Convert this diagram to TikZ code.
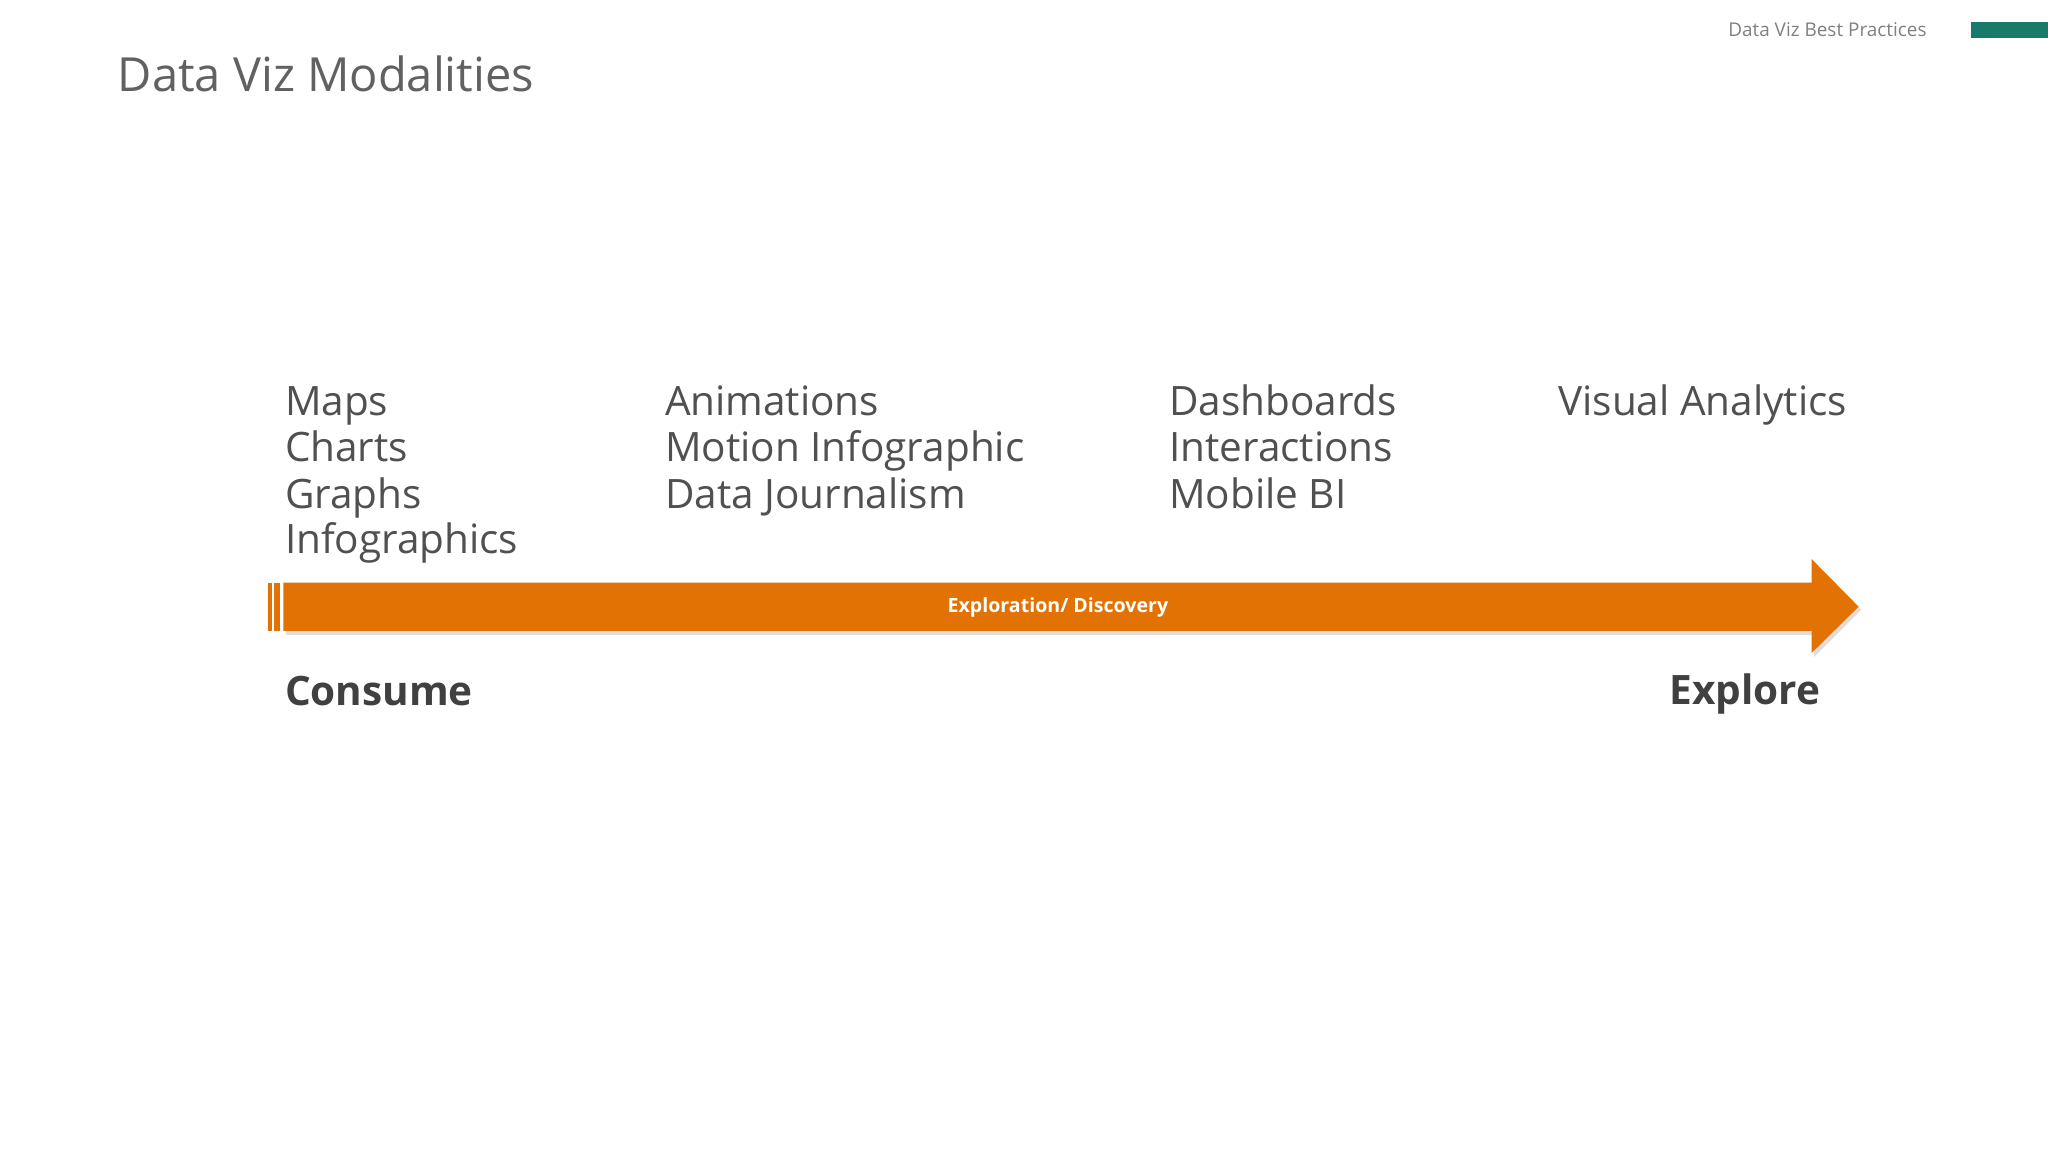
\documentclass[tikz,border=0pt]{standalone}
\usepackage{fontspec}
\setmainfont{Open Sans}
\definecolor{txt}{RGB}{80,80,80}
\definecolor{dark}{RGB}{64,64,64}
\definecolor{arr}{RGB}{226,114,4}
\definecolor{arrd}{RGB}{200,98,0}
\definecolor{tealbar}{RGB}{24,122,104}
\begin{document}
\begin{tikzpicture}[x=1pt,y=-1pt,
  item/.style={anchor=base west,inner sep=0pt,text=txt,font=\fontsize{31}{31}\selectfont},
  endlbl/.style={inner sep=0pt,text=dark,font=\fontsize{31}{31}\selectfont\bfseries}]
\useasboundingbox (0,0) rectangle (1568,882);
\fill[white] (0,0) rectangle (1568,882);
\node[anchor=base west,inner sep=0pt,text=txt!90,font=\fontsize{36}{36}\selectfont] (title) at (90,70) {Data Viz Modalities};
\node[anchor=base west,inner sep=0pt,text=gray,font=\fontsize{14.5}{14.5}\selectfont] (hdr) at (1323,28) {Data Viz Best Practices};
\fill[tealbar] (1509,17) rectangle (1568,29);
% arrow
\fill[black!25,opacity=0.5] (219,449) -- (1389,449) -- (1389,431) -- (1425,467) -- (1389,503) -- (1389,486) -- (219,486) -- cycle;
\fill[arr] (217,446) -- (1387,446) -- (1387,428) -- (1423,464.5) -- (1387,500) -- (1387,483) -- (217,483) -- cycle;
\fill[arr] (205,446) rectangle (208,483);
\fill[arr] (210,446) rectangle (214,483);
\node[inner sep=0pt,text=white,font=\fontsize{15}{15}\selectfont\bfseries] (lbl) at (810,465) {Exploration/ Discovery};
% columns
\node[item] (a1) at (218,318) {Maps};
\node[item] (a2) at (218,353) {Charts};
\node[item] (a3) at (218,389) {Graphs};
\node[item] (a4) at (218,424) {Infographics};
\node[item] (b1) at (509,318) {Animations};
\node[item] (b2) at (509,353) {Motion Infographic};
\node[item] (b3) at (509,389) {Data Journalism};
\node[item] (c1) at (895,318) {Dashboards};
\node[item] (c2) at (895,353) {Interactions};
\node[item] (c3) at (895,389) {Mobile BI};
\node[item] (d1) at (1193,318) {Visual Analytics};
\node[endlbl,anchor=base west] (cons) at (218,540) {Consume};
\node[endlbl,anchor=base east] (expl) at (1394,539) {Explore};
\end{tikzpicture}
\end{document}
